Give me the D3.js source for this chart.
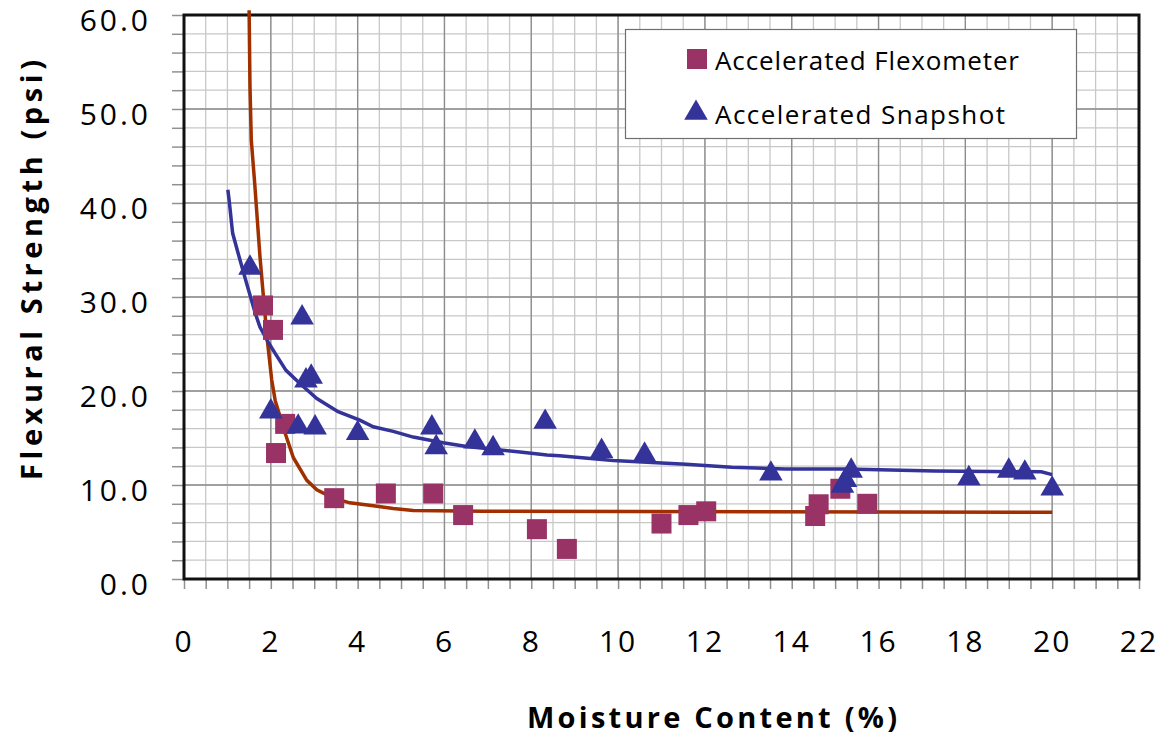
<!DOCTYPE html>
<html lang="en">
  <head>
    <meta charset="UTF-8" />
    <title>Flexural Strength vs Moisture Content</title>
    <script src="https://d3js.org/d3.v7.min.js"></script>
    <style>
      body {
        margin: 0;
        background: white;
        font-family: "Open Sans", Arial, sans-serif;
      }
    </style>
  </head>
  <body>
    <svg id="chart" width="1169" height="738"></svg>
    <script>
      // Series values (moisture %, strength psi)
      const flexometer = [
        [1.82, 29.1], [2.05, 26.5], [2.12, 13.4], [2.33, 16.5], [3.46, 8.6],
        [4.65, 9.1], [5.74, 9.1], [6.43, 6.8], [8.13, 5.3], [8.82, 3.2],
        [11.0, 5.9], [11.62, 6.8], [12.03, 7.2], [14.54, 6.7], [14.62, 7.95],
        [15.12, 9.6], [15.74, 8.0]
      ];
      const snapshot = [
        [1.52, 33.1], [2.0, 17.8], [2.63, 16.2], [2.72, 27.8], [2.81, 21.1],
        [2.93, 21.5], [3.02, 16.1], [4.0, 15.5], [5.71, 16.1], [5.81, 14.0],
        [6.7, 14.6], [7.12, 13.9], [8.32, 16.7], [9.62, 13.6], [10.61, 13.2],
        [13.52, 11.2], [15.17, 9.9], [15.24, 10.5], [15.37, 11.5], [18.08, 10.7],
        [19.0, 11.5], [19.37, 11.3], [20.0, 9.6]
      ];
      // Trend lines
      const flexTrend = [
        [1.50, 60.5], [1.52, 52.4], [1.55, 46.7], [1.63, 42.0], [1.75, 34.3],
        [1.83, 30.0], [1.92, 25.4], [2.02, 21.2], [2.10, 19.0], [2.33, 15.5],
        [2.52, 12.9], [2.83, 10.5], [3.06, 9.5], [3.44, 8.6], [3.82, 8.1],
        [4.36, 7.8], [4.82, 7.5], [5.28, 7.3], [6.89, 7.2], [20.0, 7.1]
      ];
      const snapTrend = [
        [1.01, 41.4], [1.04, 40.3], [1.12, 36.8], [1.25, 34.6], [1.44, 31.5],
        [1.64, 28.3], [1.75, 26.8], [1.94, 25.2], [2.10, 24.0], [2.35, 22.2],
        [2.67, 20.8], [3.06, 19.2], [3.55, 17.8], [4.05, 16.9], [4.36, 16.2],
        [4.82, 15.7], [5.28, 15.1], [5.97, 14.5], [6.51, 14.1], [7.13, 13.8],
        [7.74, 13.5], [8.36, 13.2], [8.65, 13.1], [9.89, 12.6], [11.56, 12.2],
        [12.62, 11.9], [13.85, 11.7], [15.26, 11.7], [17.29, 11.5], [19.75, 11.4],
        [20.0, 11.1]
      ];
      const xTicks = [0, 2, 4, 6, 8, 10, 12, 14, 16, 18, 20, 22];
      const yTicks = [0, 10, 20, 30, 40, 50, 60];
      const seriesNames = ["Accelerated Flexometer", "Accelerated Snapshot"];

      const plot = { left: 184, top: 15, right: 1139, bottom: 579 };
      const squareColor = "#993366";
      const triColor = "#333399";
      const flexLineColor = "#a03000";

      const svg = d3.select("#chart");

      const x = d3.scaleLinear().domain([0, 22]).range([plot.left, plot.right]);
      const y = d3.scaleLinear().domain([0, 60]).range([plot.bottom, plot.top]);

      // Gridlines: minor first, then major
      const g = svg.append("g");
      g.selectAll(".vminor")
        .data(d3.range(0, 22.01, 0.5))
        .join("line")
        .attr("x1", (d) => x(d)).attr("x2", (d) => x(d))
        .attr("y1", plot.top).attr("y2", plot.bottom)
        .attr("stroke", "#c8c8c8").attr("stroke-width", 1.3);
      g.selectAll(".hminor")
        .data(d3.range(0, 60.01, 2))
        .join("line")
        .attr("x1", plot.left).attr("x2", plot.right)
        .attr("y1", (d) => y(d)).attr("y2", (d) => y(d))
        .attr("stroke", "#c8c8c8").attr("stroke-width", 1.3);
      g.selectAll(".vmajor")
        .data(xTicks)
        .join("line")
        .attr("x1", (d) => x(d)).attr("x2", (d) => x(d))
        .attr("y1", plot.top).attr("y2", plot.bottom)
        .attr("stroke", "#8c8c8c").attr("stroke-width", 1.3);
      g.selectAll(".hmajor")
        .data(yTicks)
        .join("line")
        .attr("x1", plot.left).attr("x2", plot.right)
        .attr("y1", (d) => y(d)).attr("y2", (d) => y(d))
        .attr("stroke", "#8c8c8c").attr("stroke-width", 1.3);

      // Axes (tick marks every minor step)
      const xAxis = svg.append("g")
        .attr("transform", `translate(0,${plot.bottom})`)
        .call(d3.axisBottom(x).tickValues(d3.range(0, 22.01, 0.5)).tickSize(10).tickFormat(""));
      const yAxis = svg.append("g")
        .attr("transform", `translate(${plot.left},0)`)
        .call(d3.axisLeft(y).tickValues(d3.range(0, 60.01, 2)).tickSize(12).tickFormat(""));
      [xAxis, yAxis].forEach((a) => {
        a.select(".domain").remove();
        a.selectAll(".tick line").attr("stroke", "#909090").attr("stroke-width", 1.5);
      });

      // Tick labels
      svg.append("g").selectAll("text")
        .data(xTicks)
        .join("text")
        .attr("x", (d) => x(d))
        .attr("y", 652)
        .attr("text-anchor", "middle")
        .attr("font-size", 30)
        .attr("letter-spacing", 2)
        .text((d) => d);
      svg.append("g").selectAll("text")
        .data(yTicks)
        .join("text")
        .attr("x", 151)
        .attr("y", (d) => y(d) + 15.5)
        .attr("text-anchor", "end")
        .attr("font-size", 30)
        .attr("letter-spacing", 3)
        .text((d) => d.toFixed(1));

      // Plot border
      svg.append("rect")
        .attr("x", plot.left).attr("y", plot.top)
        .attr("width", plot.right - plot.left).attr("height", plot.bottom - plot.top)
        .attr("fill", "none").attr("stroke", "#111").attr("stroke-width", 3);

      // Trend lines
      const line = d3.line().x((d) => x(d[0])).y((d) => y(d[1]));
      svg.append("path").datum(flexTrend)
        .attr("fill", "none").attr("stroke", flexLineColor).attr("stroke-width", 3.5)
        .attr("d", line);
      svg.append("path").datum(snapTrend)
        .attr("fill", "none").attr("stroke", triColor).attr("stroke-width", 3.5)
        .attr("d", line);

      // Markers
      const sq = 20;
      svg.append("g").selectAll("rect")
        .data(flexometer)
        .join("rect")
        .attr("x", (d) => x(d[0]) - sq / 2)
        .attr("y", (d) => y(d[1]) - sq / 2)
        .attr("width", sq).attr("height", sq)
        .attr("fill", squareColor);

      const tri = d3.symbol().type(d3.symbolTriangle).size(240);
      svg.append("g").selectAll("path")
        .data(snapshot)
        .join("path")
        .attr("transform", (d) => `translate(${x(d[0])},${y(d[1])})`)
        .attr("d", tri)
        .attr("fill", triColor);

      // Legend
      const legend = svg.append("g");
      legend.append("rect")
        .attr("x", 625.5).attr("y", 29.5).attr("width", 451).attr("height", 109)
        .attr("fill", "white").attr("stroke", "#707070").attr("stroke-width", 1.2);
      legend.append("rect")
        .attr("x", 687).attr("y", 49).attr("width", 20).attr("height", 20)
        .attr("fill", squareColor);
      legend.append("path")
        .attr("transform", "translate(696,113)")
        .attr("d", tri)
        .attr("fill", triColor);
      legend.selectAll("text")
        .data(seriesNames)
        .join("text")
        .attr("x", 715)
        .attr("y", (d, i) => 70 + i * 54)
        .attr("font-size", 26)
        .attr("textLength", (d, i) => (i === 0 ? 304 : 290))
        .attr("lengthAdjust", "spacing")
        .text((d) => d);

      // Axis titles
      svg.append("text")
        .attr("x", 527).attr("y", 728)
        .attr("font-size", 29).attr("font-weight", "bold")
        .attr("textLength", 370).attr("lengthAdjust", "spacing")
        .text("Moisture Content (%)");
      svg.append("text")
        .attr("transform", "translate(42,480) rotate(-90)")
        .attr("font-size", 29).attr("font-weight", "bold")
        .attr("textLength", 420).attr("lengthAdjust", "spacing")
        .text("Flexural Strength (psi)");
    </script>
  </body>
</html>
